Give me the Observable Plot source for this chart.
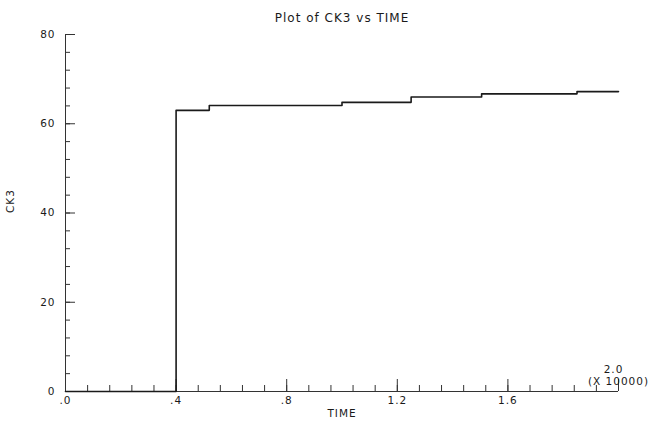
<!DOCTYPE html>
<html>
<head>
<meta charset="utf-8">
<script src="https://cdn.jsdelivr.net/npm/d3@7"></script>
<script src="https://cdn.jsdelivr.net/npm/@observablehq/plot@0.6"></script>
<style>
  html, body { margin: 0; padding: 0; background: #fff; }
  svg text { letter-spacing: 1px; }
</style>
</head>
<body>
<div id="chart"></div>
<script>
// TIME (x 10000) at which CK3 changes, and CK3 level from that time on
const time = [0, 0.4, 0.52, 1.0, 1.25, 1.505, 1.85, 2.0];
const ck3  = [0, 63.0, 64.1, 64.8, 66.0, 66.7, 67.2, 67.2];

const xTickValues = [0, 0.4, 0.8, 1.2, 1.6];
const xTickLabels = [".0", ".4", ".8", "1.2", "1.6"];
const xLastTick = [2.0];
const xLastLabel = ["2.0"];
const yTickValues = [0, 20, 40, 60, 80];
const yTickLabels = ["0", "20", "40", "60", "80"];

const data = time.map((t, i) => ({time: t, ck3: ck3[i]}));
const xMinor = d3.range(0, 2.0001, 0.08).map(v => +v.toFixed(2));
const yMinor = d3.range(0, 80.001, 4);
const ink = "#1a1a1a";

const chart = Plot.plot({
  width: 656,
  height: 426,
  marginLeft: 65,
  marginRight: 38,
  marginTop: 34,
  marginBottom: 35,
  x: {domain: [0, 2]},
  y: {domain: [0, 80]},
  style: {fontFamily: "'DejaVu Sans', sans-serif", fontSize: "10.5px", color: ink, background: "#fff"},
  marks: [
    // axis lines
    Plot.ruleX([0], {y1: 0, y2: 80, stroke: "#333", strokeWidth: 1}),
    Plot.ruleY([0], {x1: 0, x2: 2, stroke: "#333", strokeWidth: 1}),
    // inward ticks
    Plot.axisX({ticks: xMinor, tickSize: -6, tickFormat: () => "", label: null, stroke: "#333"}),
    Plot.axisX({ticks: [...xTickValues, ...xLastTick], tickSize: -12, tickFormat: () => "", label: null, stroke: "#333"}),
    Plot.axisY({ticks: yMinor, tickSize: -5, tickFormat: () => "", label: null, stroke: "#333"}),
    Plot.axisY({ticks: yTickValues, tickSize: -10, tickFormat: () => "", label: null, stroke: "#333"}),
    // tick labels
    Plot.axisX({ticks: xTickValues, tickSize: 0, tickPadding: 5, tickFormat: d => xTickLabels[xTickValues.indexOf(d)], label: null, fill: ink}),
    Plot.axisY({ticks: yTickValues, tickSize: 0, tickPadding: 10, tickFormat: d => yTickLabels[yTickValues.indexOf(d)], label: null, fill: ink}),
    Plot.text(xLastLabel, {x: xLastTick, frameAnchor: "bottom", dx: -5, dy: -19, fill: ink}),
    Plot.text(["(X 10000)"], {x: xLastTick, frameAnchor: "bottom", dy: -7, fill: ink}),
    // axis titles and title
    Plot.text(["TIME"], {frameAnchor: "bottom", dy: 25, fill: ink}),
    Plot.text(["CK3"], {frameAnchor: "left", dx: -55, rotate: -90, fill: ink}),
    Plot.text(["Plot of CK3 vs TIME"], {frameAnchor: "top", dy: -21, fill: ink, fontSize: 12, style: "letter-spacing:2.5px"}),
    // the data
    Plot.line(data, {x: "time", y: "ck3", curve: "step-after", stroke: ink, strokeWidth: 1.6})
  ]
});
document.getElementById("chart").append(chart);
</script>
</body>
</html>
